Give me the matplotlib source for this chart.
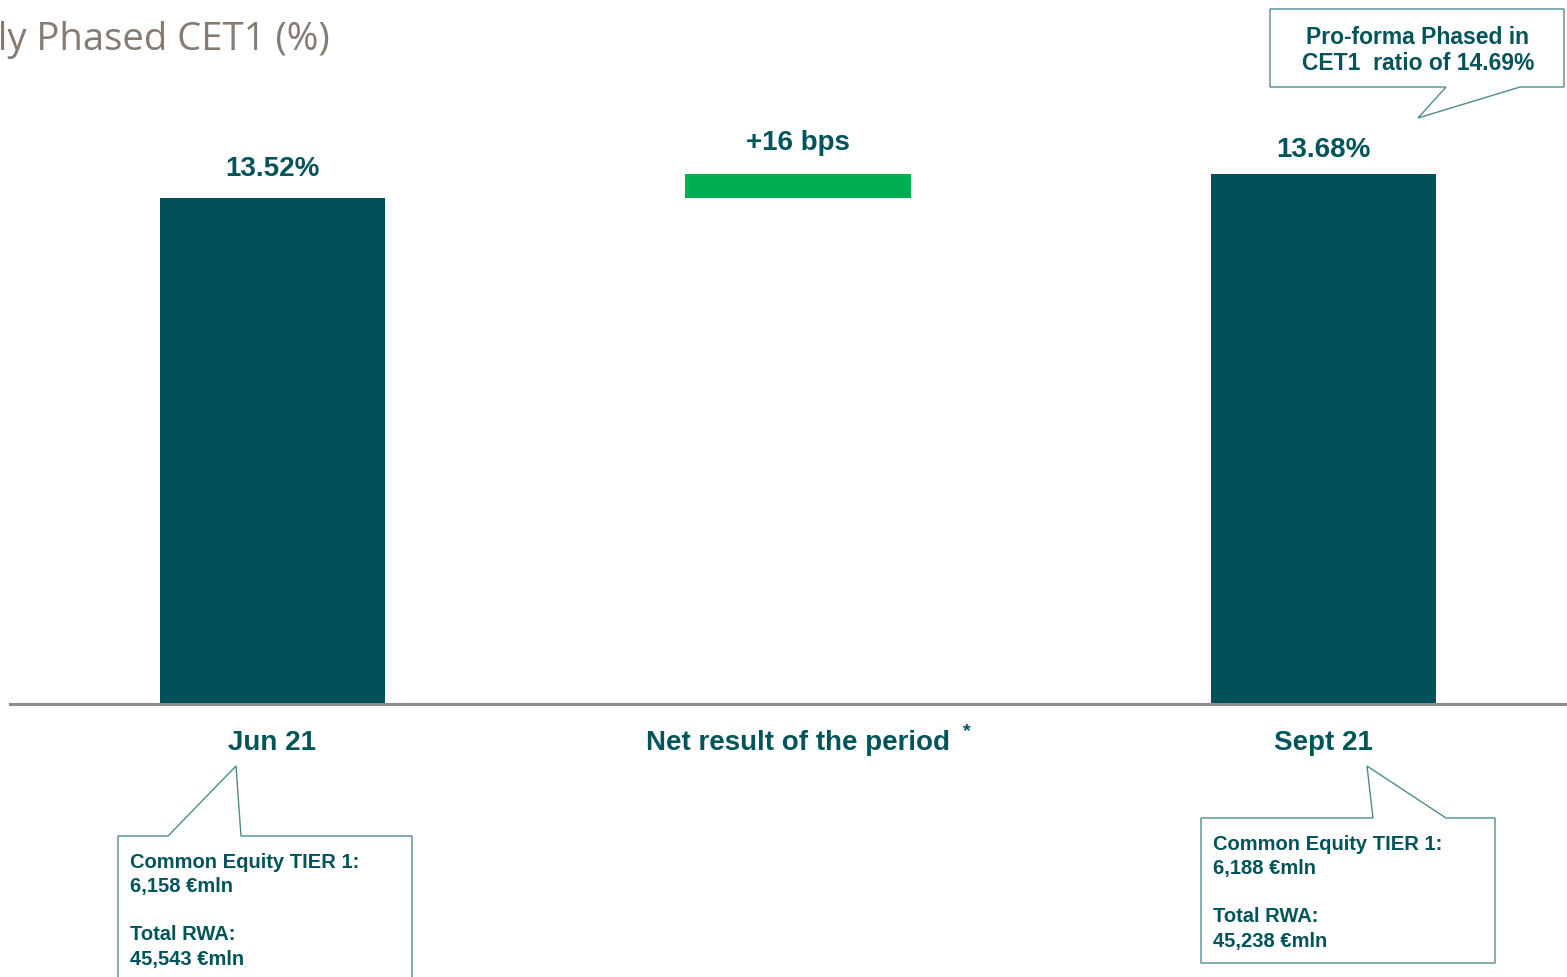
import matplotlib
matplotlib.use("Agg")
import matplotlib.pyplot as plt
import matplotlib.transforms as mtransforms
from matplotlib.patches import Polygon

# data
categories = ["Jun 21", "Net result of the period", "Sept 21"]
start_value = 13.52
delta_value = 0.16
end_value = 13.68
bar_labels = ["13.52%", "+16 bps", "13.68%"]

TEAL = "#00505A"
TXT = "#00545A"
GREEN = "#00AF50"
EDGE = "#4F8C90"
GREY = "#8C8C8C"

plt.rcParams["font.family"] = ["Liberation Sans", "DejaVu Sans"]

W, H = 1567, 978
fig = plt.figure(figsize=(W / 100, H / 100), dpi=100)
# pixel coords (origin top-left) for the callout decorations
px = mtransforms.Affine2D().scale(1 / W, -1 / H).translate(0, 1) + fig.transFigure

ax = fig.add_axes([10 / W, (H - 705) / H, 1 - 10 / W, 705 / H])
bw = 0.43
ax.bar([0, 2], [start_value, end_value], width=bw, color=TEAL, zorder=1)
ax.bar([1], [delta_value], bottom=start_value, width=bw, color=GREEN, zorder=1)

ax.set_xlim(-0.4995, 2.4634)
ax.set_ylim(10.147, 14.847)

for s in ["top", "left", "right"]:
    ax.spines[s].set_visible(False)
ax.spines["bottom"].set_color(GREY)
ax.spines["bottom"].set_linewidth(2.2)
ax.set_yticks([])
ax.set_xticks(range(3))
ax.set_xticklabels(categories, fontsize=20, fontweight="bold", color=TXT)
ax.tick_params(axis="x", length=0, pad=18)

# value labels
tops = [start_value, start_value + delta_value, end_value]
offsets = [12.5, 14, 8.5]
for i, (t, lab, off) in enumerate(zip(tops, bar_labels, offsets)):
    ax.annotate(lab, (i, t), xytext=(0, off), textcoords="offset points",
                ha="center", va="bottom", fontsize=20, fontweight="bold", color=TXT)

# asterisk after middle label
fig.text(967, 732, "*", transform=px, ha="center", va="center", fontsize=14,
         fontweight="bold", color=TXT)

# title (cut at left edge, as in the slide)
fig.text(330, 40, "Fully Phased CET1 (%)", transform=px, ha="right", va="center",
         fontsize=27.5, color="#857B72", family=["Open Sans", "DejaVu Sans"])


def callout(verts, lines, x, y0, dy, ha="left", size=14.5):
    fig.patches.append(Polygon(verts, closed=True, transform=px, facecolor="white",
                               edgecolor=EDGE, linewidth=1.0))
    for k, ln in enumerate(lines):
        fig.text(x, y0 + k * dy, ln, transform=px, ha=ha, va="center",
                 fontsize=size, fontweight="bold", color=TXT)


callout([(118, 837), (168, 837), (236, 767), (241, 837), (412, 837), (412, 995), (118, 995)],
        ["Common Equity TIER 1:", "6,158 €mln", "", "Total RWA:", "45,543 €mln"],
        130, 862, 24.3)
callout([(1201, 819), (1373, 819), (1367, 767), (1446, 819), (1495, 819), (1495, 964), (1201, 964)],
        ["Common Equity TIER 1:", "6,188 €mln", "", "Total RWA:", "45,238 €mln"],
        1213, 844, 24.3)
callout([(1270, 10), (1564, 10), (1564, 88), (1520, 88), (1418, 119), (1446, 88), (1270, 88)],
        ["Pro-forma Phased in", "CET1  ratio of 14.69%"],
        1418, 37, 27, ha="center", size=16.5)

fig.savefig("out.png", dpi=100)
